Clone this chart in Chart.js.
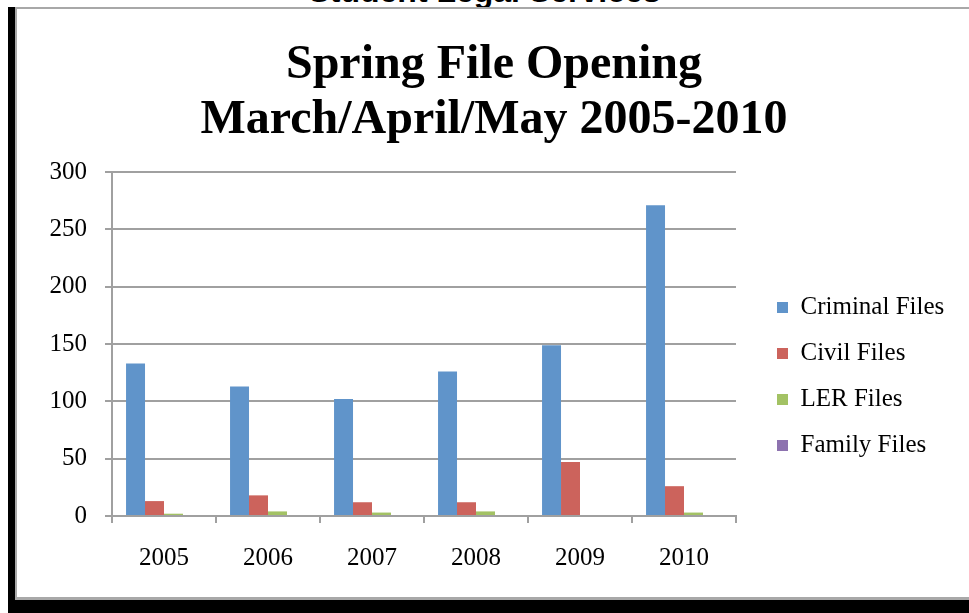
<!DOCTYPE html>
<html>
<head>
<meta charset="utf-8">
<script src="https://cdn.jsdelivr.net/npm/chart.js@4"></script>
<style>
  html, body { margin: 0; padding: 0; background: #fff; overflow: hidden; }
  body { width: 969px; height: 613px; position: relative; }
  .top-text { position: absolute; left: 0; width: 969px; top: -25px; text-align: center;
    font: bold 32px "Liberation Sans", Arial, sans-serif; line-height: 32px; color: #000; }
  .bar { position: absolute; background: #000; }
  .line { position: absolute; background: #a8a8a8; }
  .chart-box { position: absolute; left: 17px; top: 9px; width: 952px; height: 588px; }
</style>
</head>
<body>
<div class="top-text">Student Legal Services</div>
<div class="line" style="left:15px;top:7px;width:954px;height:2px"></div>
<div class="line" style="left:15px;top:7px;width:2px;height:593px"></div>
<div class="line" style="left:15px;top:597px;width:954px;height:3px"></div>
<div class="bar" style="left:8px;top:7px;width:7px;height:606px"></div>
<div class="bar" style="left:8px;top:600px;width:961px;height:13px"></div>
<div class="chart-box"><canvas id="fileChart"></canvas></div>
<script>
const years = ['2005', '2006', '2007', '2008', '2009', '2010'];
const seriesNames = ['Criminal Files', 'Civil Files', 'LER Files', 'Family Files'];
const criminalFiles = [133, 113, 102, 126, 149, 271];
const civilFiles = [13, 18, 12, 12, 47, 26];
const lerFiles = [2, 4, 3, 4, 0, 3];
const familyFiles = [0, 0, 0, 0, 0, 0];
const titleLines = ['Spring File Opening', 'March/April/May 2005-2010'];

const serif = '"Liberation Serif", "Times New Roman", serif';
const gridGray = '#a0a0a0';
const legendSize = 25, legendPad = 21, legendBox = 11;

// legend sits right of a 20px gap; pad the right edge so the plot ends where the picture's does
const measure = document.createElement('canvas').getContext('2d');
measure.font = `${legendSize}px ${serif}`;
const legendText = Math.max(...seriesNames.map(n => measure.measureText(n).width));
const rightPad = Math.max(0, 203 - (legendPad + legendBox + legendSize / 2 + legendText));
// left padding chosen so the title centre lands a little right of the canvas centre
const leftPad = rightPad + 2;

function bars(label, data, color) {
  return { label, data, backgroundColor: color, borderColor: color, borderWidth: 0,
    categoryPercentage: 0.73, barPercentage: 1.0 };
}

new Chart(document.getElementById('fileChart'), {
  type: 'bar',
  data: {
    labels: years,
    datasets: [
      bars(seriesNames[0], criminalFiles, '#6094ca'),
      bars(seriesNames[1], civilFiles, '#cc635c'),
      bars(seriesNames[2], lerFiles, '#a3c264'),
      bars(seriesNames[3], familyFiles, '#8d72af')
    ]
  },
  options: {
    responsive: true,
    maintainAspectRatio: false,
    animation: false,
    layout: { padding: { left: leftPad, right: rightPad, top: 0, bottom: 10 } },
    plugins: {
      title: {
        display: true, text: titleLines, color: '#000',
        font: { family: serif, size: 48, weight: 'bold', lineHeight: 1.146 },
        padding: { top: 29, bottom: 24 }
      },
      legend: {
        position: 'right', align: 'start', maxWidth: 300,
        title: { display: true, text: ' ', font: { size: 10, lineHeight: 1.2 }, padding: { top: 253, bottom: 0 } },
        labels: { color: '#000', font: { family: serif, size: legendSize }, boxWidth: legendBox, boxHeight: legendBox, padding: legendPad }
      },
      tooltip: { enabled: false }
    },
    scales: {
      x: {
        grid: { display: true, drawOnChartArea: false, drawTicks: true, tickLength: 7, color: gridGray, lineWidth: 2, offset: true },
        border: { display: true, color: gridGray, width: 2 },
        ticks: { color: '#000', font: { family: serif, size: 25 }, padding: 20 },
        afterFit: s => { s.height = 71; }
      },
      y: {
        min: 0, max: 300,
        ticks: { stepSize: 50, color: '#000', font: { family: serif, size: 25, lineHeight: 1 }, padding: 18 },
        grid: { color: gridGray, lineWidth: 2, tickLength: 7 },
        border: { display: true, color: gridGray, width: 2 },
        afterFit: s => { s.width = 95 - leftPad; }
      },
      spacer: {
        position: 'right', display: true,
        grid: { display: false, drawTicks: false },
        border: { display: false },
        ticks: { display: false },
        afterFit: s => { s.width = 20; }
      }
    }
  }
});
</script>
</body>
</html>
